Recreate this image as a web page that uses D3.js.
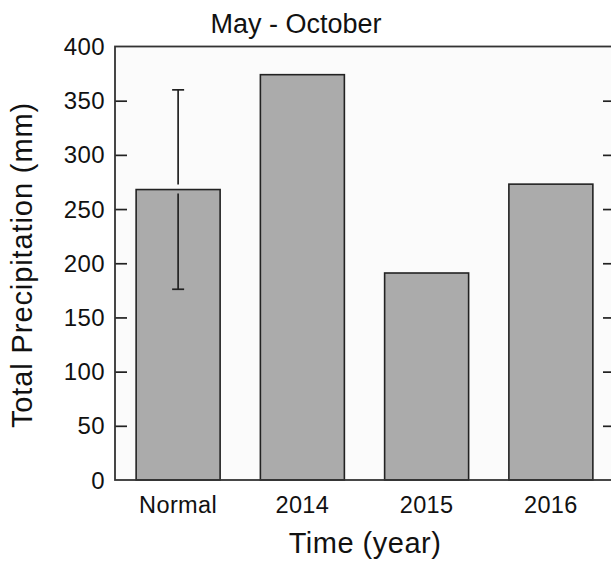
<!DOCTYPE html>
<html>
<head>
<meta charset="utf-8">
<script src="https://cdn.jsdelivr.net/npm/d3@7/dist/d3.min.js"></script>
<style>
  html, body { margin: 0; padding: 0; background: #ffffff; }
  svg { display: block; }
  text { font-family: "Liberation Sans", Arial, Helvetica, sans-serif; fill: #111; }
</style>
</head>
<body>
<div id="chart"></div>
<script>
// Total precipitation, May - October
const categories = ["Normal", "2014", "2015", "2016"];
const totals = [268, 374, 191, 273];          // mm
const errors = [92, 0, 0, 0];                 // ± spread shown on the normal
const yTicks = [0, 50, 100, 150, 200, 250, 300, 350, 400];

const W = 611, H = 562;
const plotLeft = 115, plotRight = 615, plotTop = 46.5, plotBottom = 480;

const svg = d3.select("#chart").append("svg")
  .attr("width", W).attr("height", H);

const x = d3.scaleBand()
  .domain(categories)
  .range([plotLeft + 1, plotRight - 2])
  .paddingInner(0.324)
  .paddingOuter(0.162);

const y = d3.scaleLinear().domain([0, 400]).range([plotBottom, plotTop]);

// plot area
svg.append("rect")
  .attr("x", plotLeft).attr("y", plotTop)
  .attr("width", plotRight - plotLeft).attr("height", plotBottom - plotTop)
  .attr("fill", "#fbfbfb");

// bars
svg.append("g").selectAll("rect")
  .data(categories)
  .join("rect")
  .attr("x", d => x(d))
  .attr("y", (d, i) => y(totals[i]))
  .attr("width", x.bandwidth())
  .attr("height", (d, i) => y(0) - y(totals[i]))
  .attr("fill", "#ababab")
  .attr("stroke", "#222")
  .attr("stroke-width", 1.6);

// error bar (split where it crosses the bar top)
const eb = svg.append("g").attr("stroke", "#222").attr("stroke-width", 1.7).attr("fill", "none");
categories.forEach((c, i) => {
  if (!errors[i]) return;
  const cx = x(c) + x.bandwidth() / 2;
  const yHi = y(totals[i] + errors[i]);
  const yLo = y(totals[i] - errors[i]);
  const yMid = y(totals[i]);
  const cap = 6;
  eb.append("line").attr("x1", cx).attr("x2", cx).attr("y1", yHi).attr("y2", yMid - 5);
  eb.append("line").attr("x1", cx).attr("x2", cx).attr("y1", yMid + 4).attr("y2", yLo);
  eb.append("line").attr("x1", cx - cap).attr("x2", cx + cap).attr("y1", yHi).attr("y2", yHi);
  eb.append("line").attr("x1", cx - cap).attr("x2", cx + cap).attr("y1", yLo).attr("y2", yLo);
});

// left axis with inward ticks
const yAxisL = svg.append("g")
  .attr("transform", `translate(${plotLeft},0)`)
  .call(d3.axisRight(y).tickValues(yTicks).tickSize(12).tickFormat(""));
yAxisL.select(".domain").remove();
yAxisL.selectAll(".tick line").attr("stroke", "#222").attr("stroke-width", 1.7)
  .filter(d => d === 0 || d === 400).remove();

// right axis with inward ticks
const yAxisR = svg.append("g")
  .attr("transform", `translate(${plotRight},0)`)
  .call(d3.axisLeft(y).tickValues(yTicks).tickSize(12).tickFormat(""));
yAxisR.select(".domain").remove();
yAxisR.selectAll(".tick line").attr("stroke", "#222").attr("stroke-width", 1.7)
  .filter(d => d === 0 || d === 400).remove();

// y tick labels
svg.append("g").selectAll("text")
  .data(yTicks)
  .join("text")
  .attr("x", 105)
  .attr("y", d => y(d) + 8.5)
  .attr("text-anchor", "end")
  .attr("font-size", 24)
  .attr("letter-spacing", 0.4)
  .text(d => d);

// x tick labels
svg.append("g").selectAll("text")
  .data(categories)
  .join("text")
  .attr("x", d => x(d) + x.bandwidth() / 2)
  .attr("y", 513)
  .attr("text-anchor", "middle")
  .attr("font-size", 23.5)
  .attr("letter-spacing", 0.4)
  .text(d => d);

// frame
svg.append("rect")
  .attr("x", plotLeft).attr("y", plotTop)
  .attr("width", plotRight - plotLeft).attr("height", plotBottom - plotTop)
  .attr("fill", "none")
  .attr("stroke", "#333")
  .attr("stroke-width", 1.8);

// title
svg.append("text")
  .attr("x", 296).attr("y", 33)
  .attr("text-anchor", "middle")
  .attr("font-size", 27)
  .text("May - October");

// axis titles
svg.append("text")
  .attr("x", (plotLeft + plotRight) / 2).attr("y", 553)
  .attr("text-anchor", "middle")
  .attr("font-size", 29)
  .attr("letter-spacing", 0.5)
  .text("Time (year)");

svg.append("text")
  .attr("transform", `translate(32,265) rotate(-90)`)
  .attr("text-anchor", "middle")
  .attr("font-size", 29)
  .attr("letter-spacing", 0.9)
  .text("Total Precipitation (mm)");
</script>
</body>
</html>
